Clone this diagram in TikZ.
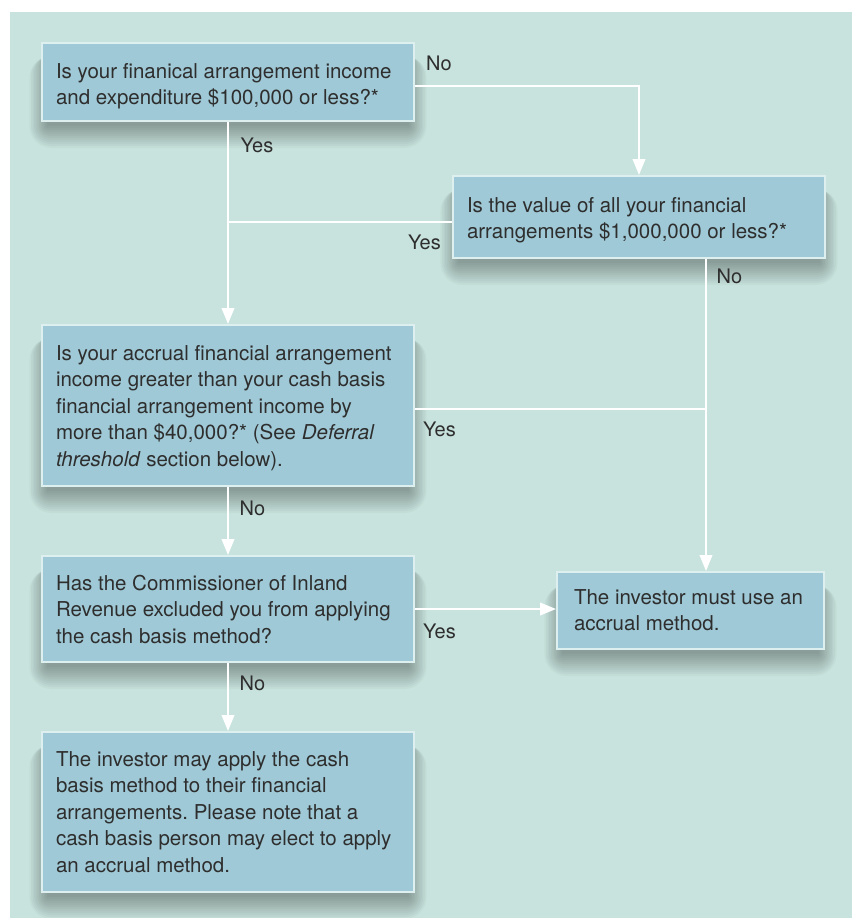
\documentclass[tikz,border=0pt]{standalone}
\usepackage{fontspec}
\setmainfont{TeX Gyre Heros}
\usetikzlibrary{arrows.meta,calc}
\definecolor{bgcol}{HTML}{C8E3DD}
\definecolor{boxfill}{HTML}{9FC9D6}
\definecolor{boxedge}{HTML}{DDEFEF}
\definecolor{txtcol}{HTML}{2E2E2E}
\pgfdeclarelayer{bglayer}
\pgfdeclarelayer{shadlayer}
\pgfsetlayers{bglayer,shadlayer,main}
\newcommand\bxt[4]{\parbox[c][#1][t]{#2}{\raggedright\frenchspacing\vspace*{#3}\strut #4}}
\newcommand\boxshadow[1]{%
  \foreach \i [evaluate=\i as \h using 6-0.8*\i] in {0,2,...,22}{%
    \fill[black, opacity=0.027, rounded corners=\i pt]
      ($(#1.north west)+(\h,14)$) rectangle ($(#1.south east)+(-\h,4+\i)$);}}
\tikzset{
  qbox/.style={draw=boxedge, line width=2pt, fill=boxfill, inner xsep=14pt, inner ysep=0pt,
    anchor=north west, text=txtcol,
    font=\fontsize{20.5}{26.5}\selectfont},
  conn/.style={draw=white, line width=2.3pt},
  tip/.style={-{Triangle[length=16pt,width=12.5pt]}},
  lbl/.style={anchor=base west, inner sep=0pt, text=txtcol, font=\fontsize{20}{24}\selectfont}
}
\begin{document}
\begin{tikzpicture}[x=1pt,y=-1pt]
\useasboundingbox (0,0) rectangle (852,918);
\begin{pgfonlayer}{bglayer}
\fill[bgcol] (10,12) rectangle (852,918);
\end{pgfonlayer}

\node[qbox] (b1) at (41,42) {\bxt{78pt}{344pt}{16.5pt}{Is your finanical arrangement income\\and expenditure \$100,000 or less?*}};
\node[qbox] (b2) at (452,175) {\bxt{82pt}{344pt}{17.5pt}{Is the value of all your financial\\arrangements \$1,000,000 or less?*}};
\node[qbox] (b3) at (41,324) {\bxt{161pt}{344pt}{16.5pt}{Is your accrual financial arrangement\\income greater than your cash basis\\financial arrangement income by\\more than \$40,000?* (See \textit{Deferral}\\\textit{threshold} section below).}};
\node[qbox] (b4) at (41,555) {\bxt{106pt}{344pt}{15.5pt}{Has the Commissioner of Inland\\Revenue excluded you from applying\\the cash basis method?}};
\node[qbox, inner xsep=17pt] (b5) at (556,571) {\bxt{77pt}{233pt}{13.5pt}{The investor must use an\\accrual method.}};
\node[qbox] (b6) at (41,731) {\bxt{160pt}{344pt}{15.5pt}{The investor may apply the cash\\basis method to their financial\\arrangements. Please note that a\\cash basis person may elect to apply\\an accrual method.}};

\begin{pgfonlayer}{shadlayer}
\boxshadow{b1}\boxshadow{b2}\boxshadow{b3}\boxshadow{b4}\boxshadow{b5}\boxshadow{b6}
\end{pgfonlayer}

\coordinate (col) at (706,300);

\draw[conn,tip] ([yshift=-4pt]b1.east) -| (b2.north);
\draw[conn,tip] (b1.south) -- (b3.north);
\draw[conn] ([yshift=-5pt]b2.west) -- ([yshift=-5pt]b2.west -| b1.south);
\draw[conn,tip] (b2.south -| col) -- (b5.north -| col);
\draw[conn] ([yshift=-3.5pt]b3.east) -- ([yshift=-3.5pt]b3.east -| col);
\draw[conn,tip] (b3.south) -- (b4.north);
\draw[conn,tip] (b4.east) -- (b4.east -| b5.west);
\draw[conn,tip] (b4.south) -- (b6.north);

\node[lbl] (l1) at (426,70) {No};
\node[lbl] (l2) at (240.5,152) {Yes};
\node[lbl] (l3) at (408,249) {Yes};
\node[lbl] (l4) at (716.5,283) {No};
\node[lbl] (l5) at (423,436) {Yes};
\node[lbl] (l6) at (239.5,515) {No};
\node[lbl] (l7) at (423,638) {Yes};
\node[lbl] (l8) at (239.5,690) {No};
\end{tikzpicture}
\end{document}
